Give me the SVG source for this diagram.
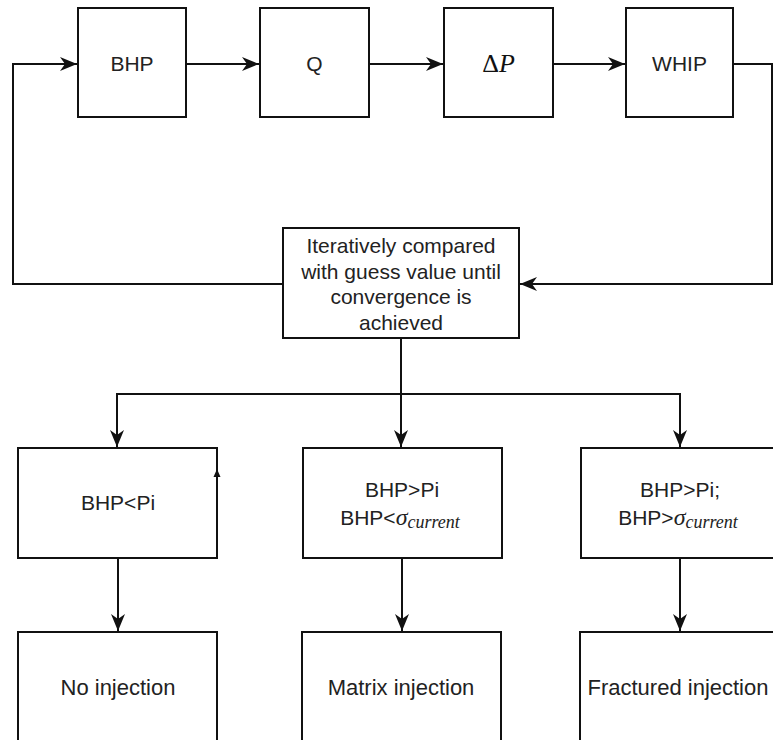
<svg xmlns="http://www.w3.org/2000/svg" width="773" height="740" viewBox="0 0 773 740">
<style>
.box{fill:#fff;stroke:#111;stroke-width:2}
.t{font-family:"Liberation Sans",Arial,sans-serif;font-size:21px;fill:#222;text-anchor:middle}
.b{font-family:"Liberation Sans",Arial,sans-serif;font-size:22px;fill:#222;text-anchor:middle}
.m{font-family:"Liberation Serif","Times New Roman",serif;font-style:italic}
.c{fill:none;stroke:#111;stroke-width:2}
</style>
<defs>
<marker id="ah" markerUnits="userSpaceOnUse" markerWidth="18" markerHeight="14" viewBox="0 0 18 14" refX="17" refY="7" orient="auto">
<path d="M0,0 L17,7 L0,14 L5,7 z" fill="#111"/>
</marker>
</defs>
<rect width="773" height="740" fill="#fff"/>
<g id="bhp"><rect class="box" x="78" y="8" width="108" height="109"/><text class="t" x="132" y="71">BHP</text></g>
<g id="q"><rect class="box" x="260" y="8" width="109" height="109"/><text class="t" x="314.5" y="71">Q</text></g>
<g id="dp"><rect class="box" x="444" y="8" width="109" height="109"/><text x="498.5" y="72" font-family="'Liberation Serif','Times New Roman',serif" font-size="26" text-anchor="middle" fill="#111">Δ<tspan font-style="italic">P</tspan></text></g>
<g id="whip"><rect class="box" x="626" y="8" width="107" height="109"/><text class="t" x="679.5" y="71">WHIP</text></g>
<g id="iter"><rect class="box" x="283" y="228" width="236" height="110"/>
<text class="t" x="401" y="253">Iteratively compared</text>
<text class="t" x="401" y="279">with guess value until</text>
<text class="t" x="401" y="304">convergence is</text>
<text class="t" x="401" y="330">achieved</text></g>
<g id="c1"><rect class="box" x="18" y="448" width="199" height="110"/><text class="t" x="118" y="510">BHP&lt;Pi</text></g>
<g id="c2"><rect class="box" x="303" y="448" width="199" height="110"/>
<text class="t" x="402" y="497">BHP&gt;Pi</text>
<text class="t" x="400" y="525">BHP&lt;<tspan class="m" font-size="24">σ</tspan><tspan class="m" font-size="18" dy="3">current</tspan></text></g>
<g id="c3"><rect class="box" x="581" y="448" width="200" height="110"/>
<text class="t" x="680" y="497">BHP&gt;Pi;</text>
<text class="t" x="678" y="525">BHP&gt;<tspan class="m" font-size="24">σ</tspan><tspan class="m" font-size="18" dy="3">current</tspan></text></g>
<g id="r1"><rect class="box" x="18" y="632" width="199" height="130"/><text class="b" x="118" y="695">No injection</text></g>
<g id="r2"><rect class="box" x="302" y="632" width="199" height="130"/><text class="b" x="401" y="695">Matrix injection</text></g>
<g id="r3"><rect class="box" x="580" y="632" width="200" height="130"/><text class="b" x="678" y="695">Fractured injection</text></g>
<g id="connectors">
<polyline class="c" points="283,284 13,284 13,64 77,64" marker-end="url(#ah)"/>
<line class="c" x1="186" y1="64" x2="259" y2="64" marker-end="url(#ah)"/>
<line class="c" x1="369" y1="64" x2="443" y2="64" marker-end="url(#ah)"/>
<line class="c" x1="553" y1="64" x2="625" y2="64" marker-end="url(#ah)"/>
<polyline class="c" points="733,64 772,64 772,284 520,284" marker-end="url(#ah)"/>
<line class="c" x1="401" y1="338" x2="401" y2="447" marker-end="url(#ah)"/>
<polyline class="c" points="117,447 117,394 680,394 680,447" marker-end="url(#ah)"/>
<line class="c" x1="117" y1="394" x2="117" y2="447" marker-end="url(#ah)"/>
<line class="c" x1="118" y1="558" x2="118" y2="631" marker-end="url(#ah)"/>
<line class="c" x1="402" y1="558" x2="402" y2="631" marker-end="url(#ah)"/>
<line class="c" x1="680" y1="558" x2="680" y2="631" marker-end="url(#ah)"/>
<polygon points="213.5,477 220.5,477 217,469" fill="#111"/>
</g>
</svg>
